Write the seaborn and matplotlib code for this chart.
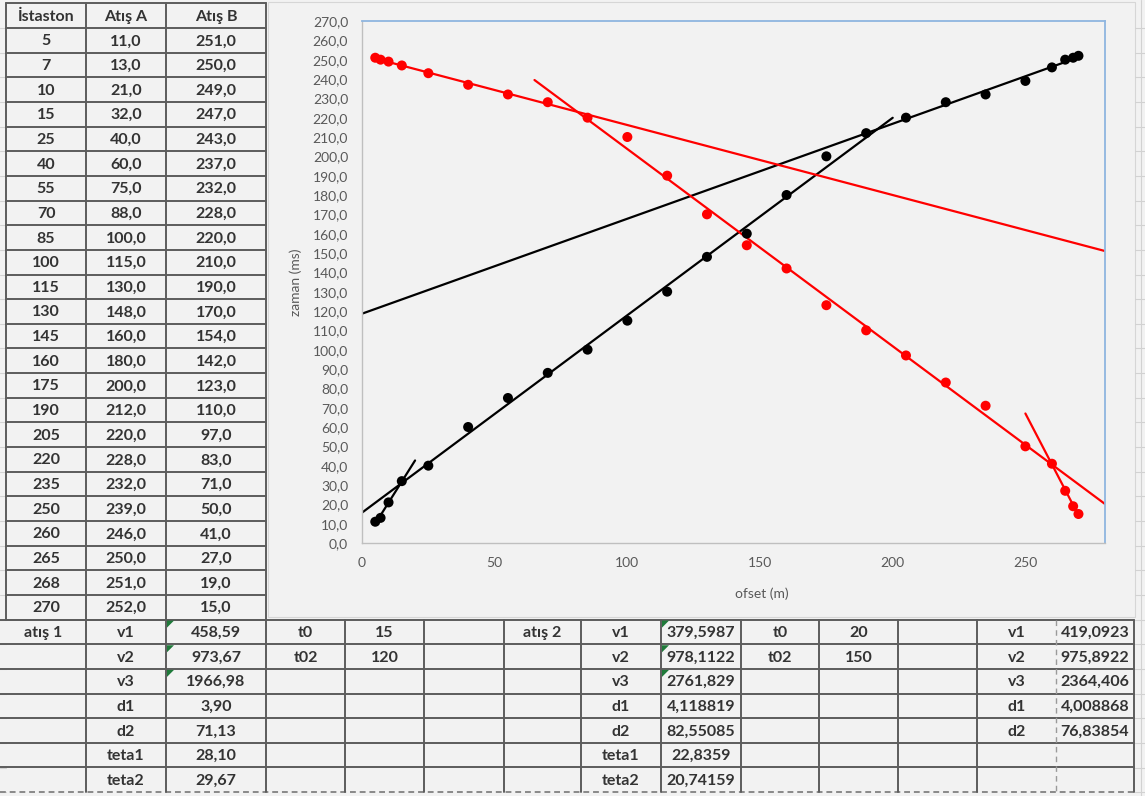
import numpy as np
import pandas as pd
import matplotlib
matplotlib.use("Agg")
import matplotlib.pyplot as plt
from matplotlib.patches import Rectangle, Polygon
from matplotlib.ticker import FuncFormatter
import seaborn as sns

# ---- survey data -------------------------------------------------------
stations = [5, 7, 10, 15, 25, 40, 55, 70, 85, 100, 115, 130, 145, 160, 175,
            190, 205, 220, 235, 250, 260, 265, 268, 270]
shot_a = [11, 13, 21, 32, 40, 60, 75, 88, 100, 115, 130, 148, 160, 180, 200,
          212, 220, 228, 232, 239, 246, 250, 251, 252]
shot_b = [251, 250, 249, 247, 243, 237, 232, 228, 220, 210, 190, 170, 154, 142,
          123, 110, 97, 83, 71, 50, 41, 27, 19, 15]

header = ["İstaston", "Atış A", "Atış B"]

param_names = ["v1", "v2", "v3", "d1", "d2", "teta1", "teta2"]
shot1_values = ["458,59", "973,67", "1966,98", "3,90", "71,13", "28,10", "29,67"]
shot2_values = ["379,5987", "978,1122", "2761,829", "4,118819", "82,55085",
                "22,8359", "20,74159"]
shot1_times = [("t0", "15"), ("t02", "120")]
shot2_times = [("t0", "20"), ("t02", "150")]
mean_names = ["v1", "v2", "v3", "d1", "d2"]
mean_values = ["419,0923", "975,8922", "2364,406", "4,008868", "76,83854"]

# linear trendlines: (series, stations used for the fit, drawn from, drawn to)
trend_segments = [
    ("A", (5, 15), 5, 20),
    ("A", (25, 175), 0, 200),
    ("A", (190, 270), 0, 270),
    ("B", (5, 70), 5, 280),
    ("B", (100, 250), 65, 280),
    ("B", (260, 270), 250, 270),
]

# ---- styling -----------------------------------------------------------
sns.set_style("white")
plt.rcParams["font.family"] = ["Lato", "DejaVu Sans"]

W, H = 1145, 796
BG = "#f2f2f2"
GRID = "#5c5c5c"
LIGHT = "#d2d2d2"
TXT = "#333333"
CELL_FS = 11.5
colors = {"A": "black", "B": "#ff0000"}

fig = plt.figure(figsize=(W / 100, H / 100), dpi=100, facecolor=BG)

# sheet layer in pixel units
sheet = fig.add_axes([0, 0, 1, 1], zorder=0)
sheet.set_xlim(0, W)
sheet.set_ylim(H, 0)
sheet.axis("off")

ROW = 24.65
top_cols = [6, 86, 166, 266]
top_y0, head_top = 28.0, 3.0
n_rows = len(stations)
bottom_y0 = top_y0 + n_rows * ROW
bot_cols = [0, 86, 166, 266, 345, 424, 504, 581, 661, 741, 819, 898, 977,
            1056, 1134]
n_bot = len(param_names)
bottom_y1 = bottom_y0 + n_bot * ROW

# light cell grid to the right of the chart and at the far left
for i in range(n_rows + n_bot + 1):
    y = top_y0 + i * ROW
    sheet.plot([1135, W], [y, y], color=LIGHT, lw=0.8)
    sheet.plot([0, top_cols[0]], [y, y], color=LIGHT, lw=0.8)
sheet.plot([1141, 1141], [0, H], color=LIGHT, lw=0.8)

# chart area
sheet.add_patch(Rectangle((268, 2), 1135 - 268, 617 - 2, fc=BG, ec="#d6d6d6",
                          lw=0.8, zorder=1))

# upper table grid
for x in top_cols:
    sheet.plot([x, x], [head_top, bottom_y0], color=GRID, lw=1.4, zorder=2)
sheet.plot([top_cols[0], top_cols[-1]], [head_top, head_top], color=GRID,
           lw=1.4, zorder=2)
for i in range(n_rows + 1):
    y = top_y0 + i * ROW
    sheet.plot([top_cols[0], top_cols[-1]], [y, y], color=GRID, lw=1.4, zorder=2)

def cell_text(x0, x1, y0, s):
    sheet.text((x0 + x1) / 2, y0 + ROW / 2 + 1, s, ha="center", va="center",
               fontsize=CELL_FS, fontweight="bold", color=TXT, zorder=3)

for c, s in enumerate(header):
    sheet.text((top_cols[c] + top_cols[c + 1]) / 2, (head_top + top_y0) / 2 + 1,
               s, ha="center", va="center", fontsize=CELL_FS, fontweight="bold",
               color=TXT, zorder=3)
fmt = lambda v: f"{v:.1f}".replace(".", ",")
for i, (st, a, b) in enumerate(zip(stations, shot_a, shot_b)):
    y = top_y0 + i * ROW
    cell_text(top_cols[0], top_cols[1], y, str(st))
    cell_text(top_cols[1], top_cols[2], y, fmt(a))
    cell_text(top_cols[2], top_cols[3], y, fmt(b))

# lower table grid
for i in range(n_bot):
    y = bottom_y0 + i * ROW
    sheet.plot([bot_cols[0], bot_cols[-1]], [y, y], color=GRID, lw=1.4, zorder=2)
sheet.plot([bot_cols[0], bot_cols[-1]], [bottom_y1 - 0.5, bottom_y1 - 0.5],
           color="#8a8a8a", lw=1.4, ls=(0, (3, 2)), zorder=2)
for x in bot_cols[1:]:
    if x == 1056:
        sheet.plot([x, x], [bottom_y0, bottom_y1], color="#9a9a9a", lw=1.0,
                   ls=(0, (4, 3)), zorder=2)
    else:
        sheet.plot([x, x], [bottom_y0, bottom_y1], color=GRID, lw=1.4, zorder=2)

def bcell(col, row, s):
    cell_text(bot_cols[col], bot_cols[col + 1], bottom_y0 + row * ROW, s)

def flag(col, row):
    x0, y0 = bot_cols[col] + 1, bottom_y0 + row * ROW + 1
    sheet.add_patch(Polygon([(x0, y0), (x0 + 7, y0), (x0, y0 + 7)],
                            closed=True, fc="#1f7a3a", ec="none", zorder=3))

bcell(0, 0, "atış 1")
bcell(6, 0, "atış 2")
for r, name in enumerate(param_names):
    bcell(1, r, name)
    bcell(2, r, shot1_values[r])
    bcell(7, r, name)
    bcell(8, r, shot2_values[r])
for r in range(3):
    flag(2, r)
    flag(8, r)
for r, (name, val) in enumerate(shot1_times):
    bcell(3, r, name)
    bcell(4, r, val)
for r, (name, val) in enumerate(shot2_times):
    bcell(9, r, name)
    bcell(10, r, val)
for r, (name, val) in enumerate(zip(mean_names, mean_values)):
    bcell(12, r, name)
    bcell(13, r, val)

# ---- travel-time chart -------------------------------------------------
points = pd.DataFrame({
    "ofset": stations * 2,
    "zaman": shot_a + shot_b,
    "atis": ["A"] * len(stations) + ["B"] * len(stations),
})

ax = fig.add_axes([362 / W, 1 - 543 / H, (1105 - 362) / W, (543 - 21) / H],
                  zorder=2)
ax.set_facecolor("none")

for series, (lo, hi), x0, x1 in trend_segments:
    sub = points[(points.atis == series) & (points.ofset >= lo) & (points.ofset <= hi)]
    coef = np.polyfit(sub.ofset, sub.zaman, 1)
    xs = np.array([x0, x1], dtype=float)
    sns.lineplot(x=xs, y=np.polyval(coef, xs), color=colors[series], lw=1.6,
                 estimator=None, sort=False, ax=ax, zorder=2)

sns.scatterplot(data=points, x="ofset", y="zaman", hue="atis", palette=colors,
                s=52, linewidth=0, legend=False, ax=ax, zorder=3)

ax.set_xlim(0, 280)
ax.set_ylim(0, 270)
ax.set_xticks(np.arange(0, 251, 50))
ax.set_yticks(np.arange(0, 271, 10))
ax.xaxis.set_major_formatter(FuncFormatter(lambda v, p: f"{v:.0f}"))
ax.yaxis.set_major_formatter(FuncFormatter(lambda v, p: f"{v:.1f}".replace(".", ",")))
ax.tick_params(length=0, labelsize=10, labelcolor="#595959", pad=10)

for side in ("left", "bottom"):
    ax.spines[side].set_color("#bfbfbf")
    ax.spines[side].set_linewidth(1.0)
for side in ("top", "right"):
    ax.spines[side].set_color("#8fb6e0")
    ax.spines[side].set_linewidth(1.3)

ax.set_xlabel("ofset (m)", fontsize=10, color="#595959")
ax.set_ylabel("zaman (ms)", fontsize=10, color="#595959")
ax.xaxis.set_label_coords((762 - 362) / 743, -(587 - 543) / 522)
ax.yaxis.set_label_coords((302 - 362) / 743, 0.5)

fig.savefig("out.png", dpi=100, facecolor=BG)
